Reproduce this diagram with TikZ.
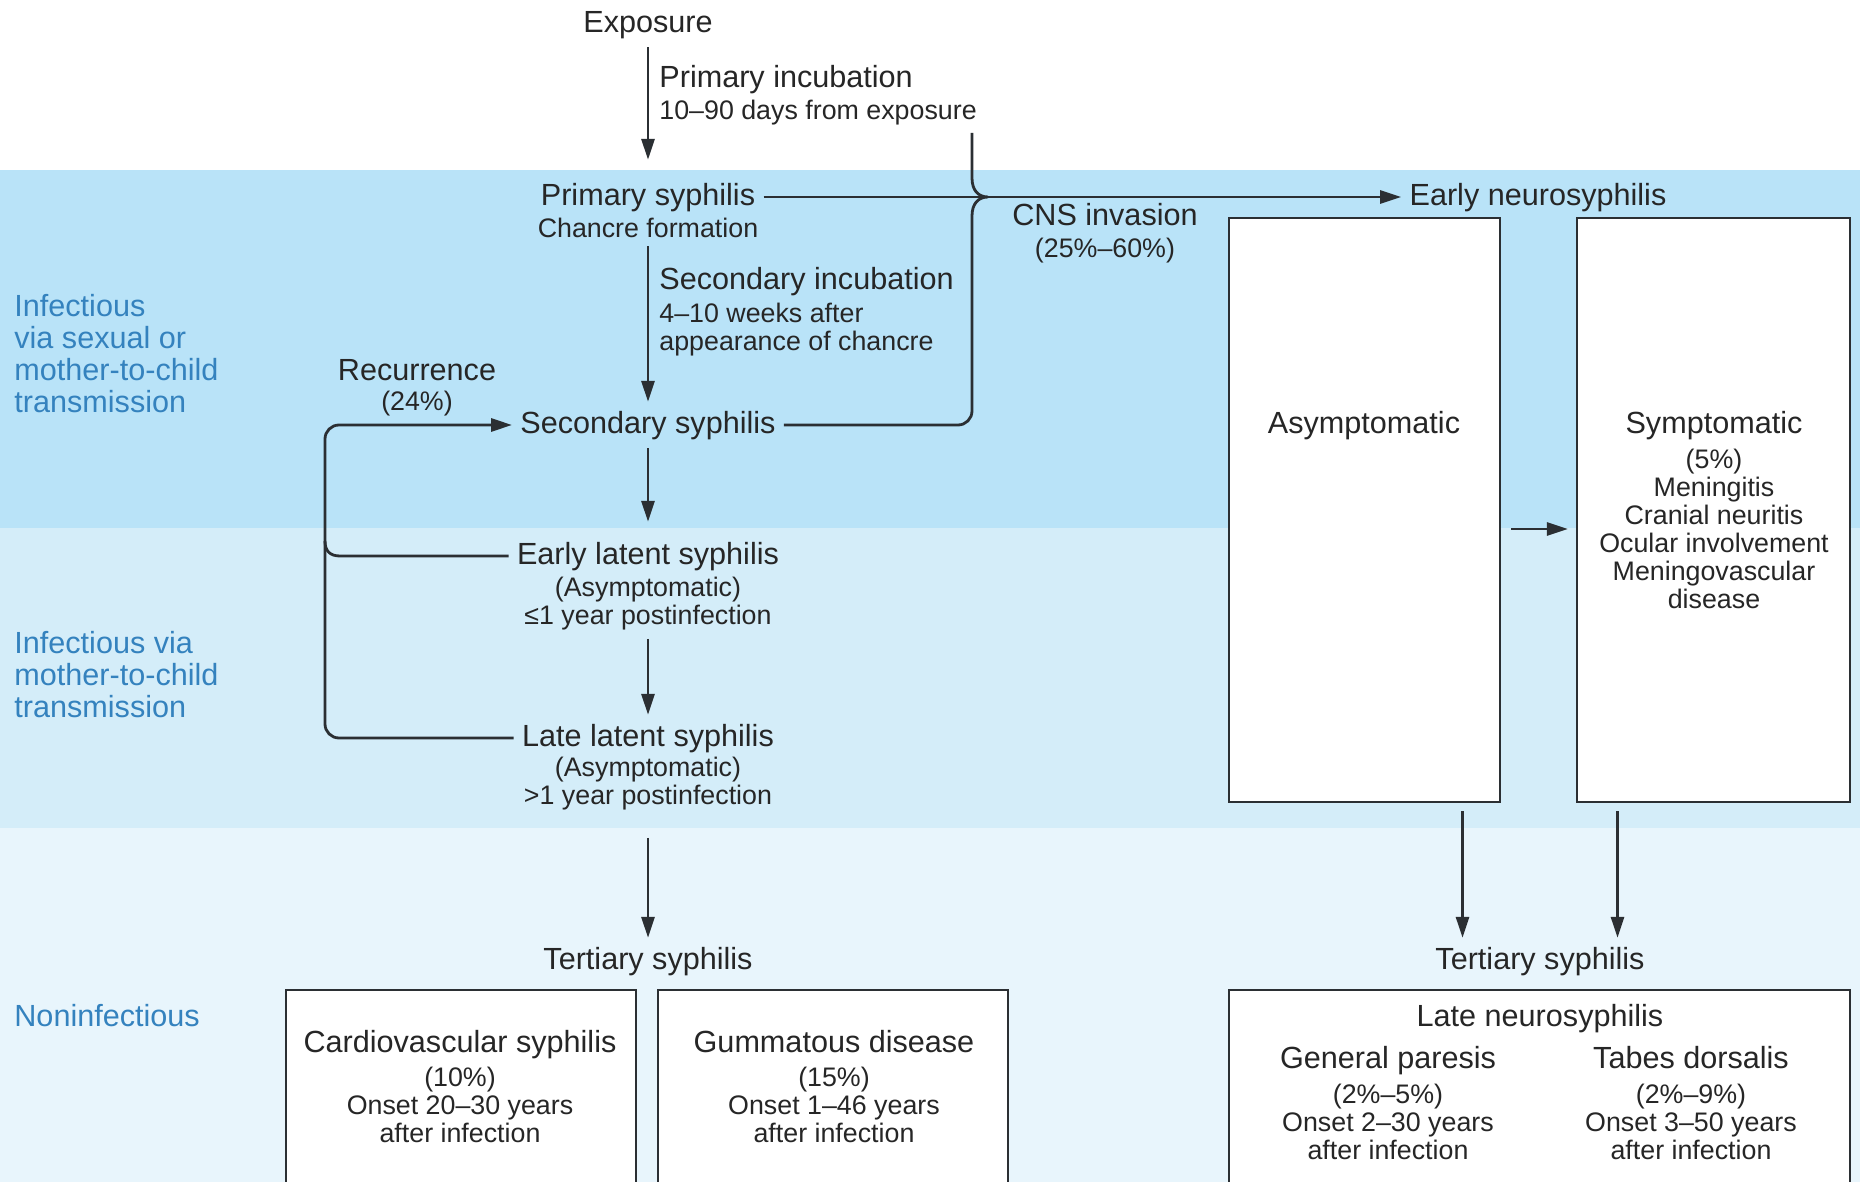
\documentclass[tikz,border=0pt]{standalone}
\usepackage{fontspec}
\setmainfont{Liberation Sans}
\usetikzlibrary{arrows.meta,positioning}

\definecolor{bandA}{HTML}{B9E3F8}
\definecolor{bandB}{HTML}{D4EDF9}
\definecolor{bandC}{HTML}{E8F5FC}
\definecolor{stageblue}{HTML}{3482BE}
\definecolor{inkgray}{HTML}{2B2F33}

\newcommand{\mainsz}{\fontsize{15.3}{16}\selectfont}
\newcommand{\subsz}{\fontsize{13.4}{14}\selectfont}

\begin{document}
\begin{tikzpicture}[x=0.5pt,y=-0.5pt,
		conn/.style={draw=inkgray,line width=1.4pt},
		arr/.style={conn,-{Triangle[length=10.5pt,width=6.5pt]}},
		stage/.style={font=\mainsz,text=black!85,text height=11.5pt,text depth=3.3pt,inner sep=4pt},
		note/.style={font=\subsz,text=black!85,align=center,inner sep=4pt},
		band/.style={font=\mainsz,text=stageblue,align=left,anchor=west,inner sep=0pt},
		panel/.style={draw=inkgray,line width=1.1pt,fill=white,inner sep=0pt}]
		\useasboundingbox (0,0) rectangle (1860,1182);
		\clip (0,0) rectangle (1860,1182);

		\fill[white] (0,0) rectangle (1860,170);
		\fill[bandA] (0,170) rectangle (1860,528);
		\fill[bandB] (0,528) rectangle (1860,828);
		\fill[bandC] (0,828) rectangle (1860,1182);

		\node[band] (lab1) at (14,354) {Infectious\\via sexual or\\mother-to-child\\transmission};
		\node[band] (lab2) at (14,675) {Infectious via\\mother-to-child\\transmission};
		\node[band] (lab3) at (14,1016) {Noninfectious};

		\node[panel,minimum width=135.5pt,minimum height=292pt] (asymbox) at (1364.5,510) {};
		\node[panel,minimum width=136.5pt,minimum height=292pt] (symbox) at (1713.5,510) {};
		\node[panel,minimum width=175pt,minimum height=110pt] (cardbox) at (461,1100) {};
		\node[panel,minimum width=175pt,minimum height=110pt] (gumbox) at (833,1100) {};
		\node[panel,minimum width=310.5pt,minimum height=110pt] (lnbox) at (1539.5,1100) {};

		\node[stage] (expo) at (648,24) {Exposure};
		\node[stage,anchor=west] (pinc) at (651,79) {Primary incubation};
		\node[note,anchor=west,align=left] (pincd) at (651,113) {10--90 days from exposure};
		\node[stage] (prim) at (648,197) {Primary syphilis};
		\node[note] (primd) at (648,228) {Chancre formation};
		\node[stage,anchor=west] (sinc) at (651,281) {Secondary incubation};
		\node[note,anchor=west,align=left] (sincd) at (651,330) {4--10 weeks after\\appearance of chancre};
		\node[stage] (recur) at (417,372) {Recurrence};
		\node[note] (recurd) at (417,404) {(24\%)};
		\node[stage] (sec) at (648,425) {Secondary syphilis};
		\node[stage] (elat) at (648,556) {Early latent syphilis};
		\node[note] (elatd) at (648,604) {(Asymptomatic)\\≤1 year postinfection};
		\node[stage] (llat) at (648,738) {Late latent syphilis};
		\node[note] (llatd) at (648,784) {(Asymptomatic)\\>1 year postinfection};
		\node[stage] (tertl) at (648,961) {Tertiary syphilis};

		\node[stage] (cns) at (1105,217) {CNS invasion};
		\node[note] (cnsd) at (1105,251) {(25\%--60\%)};
		\node[stage] (eneuro) at (1538,197) {Early neurosyphilis};
		\node[stage] (asym) at (1364,425) {Asymptomatic};
		\node[stage] (sym) at (1714,425) {Symptomatic};
		\node[note] (symd) at (1714,529) {(5\%)\\Meningitis\\Cranial neuritis\\Ocular involvement\\Meningovascular\\disease};
		\node[stage] (tertr) at (1540,961) {Tertiary syphilis};

		\node[stage] (card) at (460,1044) {Cardiovascular syphilis};
		\node[note] (cardd) at (460,1105) {(10\%)\\Onset 20--30 years\\after infection};
		\node[stage] (gum) at (834,1044) {Gummatous disease};
		\node[note] (gumd) at (834,1105) {(15\%)\\Onset 1--46 years\\after infection};
		\node[stage] (lneuro) at (1540,1018) {Late neurosyphilis};
		\node[stage] (pares) at (1388,1060) {General paresis};
		\node[note] (paresd) at (1388,1122) {(2\%--5\%)\\Onset 2--30 years\\after infection};
		\node[stage] (tabes) at (1691,1060) {Tabes dorsalis};
		\node[note] (tabesd) at (1691,1122) {(2\%--9\%)\\Onset 3--50 years\\after infection};

		% main course
		\draw[arr,shorten >=7pt] (expo) -- (prim);
		\draw[arr] (primd) -- (sec);
		\draw[arr,shorten >=5.5pt] (sec) -- (elat);
		\draw[arr] (elatd) -- (llat);
		\draw[arr,shorten <=9.5pt] (llatd) -- (tertl);

		% CNS invasion
		\coordinate (bt) at (972,133);
		\draw[arr] (prim) -- (eneuro);
		\draw[conn] (bt) -- (972,178) .. controls (972,190) and (978,197) .. (988,197) .. controls (978,197) and (972,204) .. (972,216) [rounded corners=7pt] |- (sec.east);

		% recurrence
		\coordinate (loopx) at (325,600);
		\coordinate (merge) at (325,541);
		\draw[arr,rounded corners=7pt] (llat.west) -| (loopx) |- (sec.west);
		\draw[conn] (elat.west) -- (340,556) .. controls (330,556) and (325,551) .. (merge);

		% neurosyphilis
		\coordinate (d1) at ([xshift=49pt]asymbox.south);
		\coordinate (d2) at ([xshift=-48pt]symbox.south);
		\draw[arr,shorten <=4pt] (d1) -- (d1 |- tertr.north);
		\draw[arr,shorten <=4pt] (d2) -- (d2 |- tertr.north);
		\draw[arr,shorten <=5pt,shorten >=4pt] ([yshift=-9.5pt]asymbox.east) -- ([yshift=-9.5pt]symbox.west);
\end{tikzpicture}
\end{document}
